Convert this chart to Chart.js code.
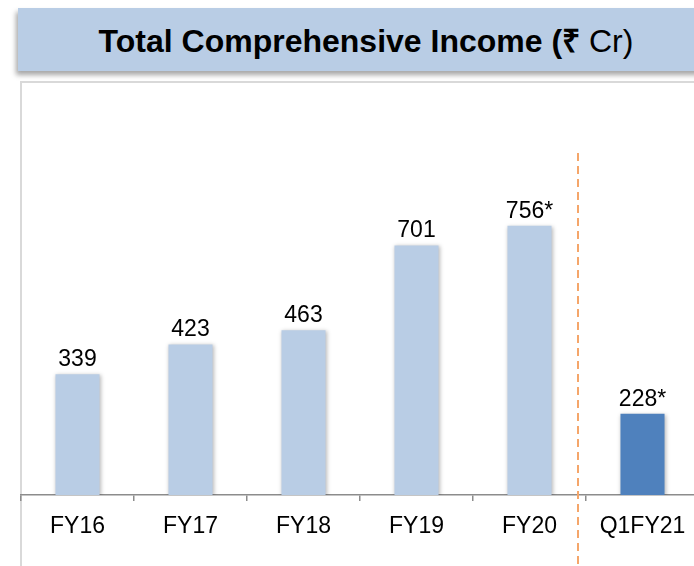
<!DOCTYPE html>
<html>
<head>
<meta charset="utf-8">
<script src="https://cdn.jsdelivr.net/npm/chart.js@4"></script>
<style>
  html, body { margin: 0; padding: 0; background: #fff; overflow: hidden; }
  body { width: 694px; height: 566px; position: relative; font-family: Arial, "Liberation Sans", sans-serif; }
  #title {
    position: absolute; left: 18px; top: 8px; width: 700px; height: 63px;
    background: #b9cde5; box-shadow: -2px 4px 5px rgba(0,0,0,0.35);
    line-height: 66px; text-align: center; font-size: 32px; color: #000;
    box-sizing: border-box; padding-right: 4px;
  }
  #title b { font-weight: bold; }
  #panel {
    position: absolute; left: 20px; top: 81px; width: 700px; height: 500px;
    border-left: 2px solid #d9d9d9; border-top: 2px solid #d9d9d9;
  }
  #wrap { position: absolute; left: 0; top: 0; width: 700px; height: 566px; }
</style>
</head>
<body>
<div id="title"><b>Total Comprehensive Income (₹</b> Cr)</div>
<div id="panel"></div>
<div id="wrap"><canvas id="incomeChart"></canvas></div>
<script>
// data
var categories = ["FY16", "FY17", "FY18", "FY19", "FY20", "Q1FY21"];
var values = [339, 423, 463, 701, 756, 228];
var valueLabels = ["339", "423", "463", "701", "756*", "228*"];
var barColors = ["#b9cde5", "#b9cde5", "#b9cde5", "#b9cde5", "#b9cde5", "#4f81bd"];

// soft shadow behind bars
var barShadow = {
    id: 'barShadow',
    beforeDatasetsDraw: function (chart) {
        var c = chart.ctx;
        c.save();
        c.shadowColor = 'rgba(0,0,0,0.28)';
        c.shadowBlur = 4;
        c.shadowOffsetX = 1;
        c.shadowOffsetY = 1;
    },
    afterDatasetsDraw: function (chart) {
        chart.ctx.restore();
    }
};

// value labels on top of the bars + dashed separator
var extras = {
    id: 'extras',
    afterDatasetsDraw: function (chart) {
        var c = chart.ctx;
        var bars = chart.getDatasetMeta(0).data;
        c.save();
        c.font = '23px Arial, "Liberation Sans", sans-serif';
        c.fillStyle = '#000';
        c.textAlign = 'center';
        c.textBaseline = 'alphabetic';
        bars.forEach(function (bar, i) {
            c.fillText(valueLabels[i], bar.x, bar.y - 8);
        });

        // dashed line between FY20 and Q1FY21
        var xs = chart.scales.x;
        var n = categories.length;
        var sepX = (xs.getPixelForValue(n - 2) + xs.getPixelForValue(n - 1)) / 2 - 8;
        c.strokeStyle = '#f5a66a';
        c.lineWidth = 2;
        c.setLineDash([8, 5]);
        c.beginPath();
        c.moveTo(sepX, 153);
        c.lineTo(sepX, 566);
        c.stroke();
        c.restore();
    }
};

var ctx = document.getElementById('incomeChart').getContext('2d');
var incomeChart = new Chart(ctx, {
    type: 'bar',
    data: {
        labels: categories,
        datasets: [{
            data: values,
            backgroundColor: barColors,
            borderWidth: 0,
            barPercentage: 0.39,
            categoryPercentage: 1.0
        }]
    },
    options: {
        responsive: true,
        maintainAspectRatio: false,
        animation: false,
        layout: { padding: { left: 21, right: 1, top: 139, bottom: 0 } },
        plugins: {
            legend: { display: false },
            tooltip: { enabled: false },
            title: { display: false }
        },
        scales: {
            y: { display: false, min: 0, max: 1000 },
            x: {
                afterFit: function (s) { s.height = 71; },
                border: { display: true, color: '#8c8c8c', width: 1.5 },
                grid: {
                    display: true,
                    offset: true,
                    drawOnChartArea: false,
                    drawTicks: true,
                    tickLength: 6,
                    color: '#8c8c8c',
                    lineWidth: 1.5
                },
                ticks: {
                    color: '#000',
                    padding: 12,
                    font: { family: 'Arial, "Liberation Sans", sans-serif', size: 23 }
                }
            }
        }
    },
    plugins: [barShadow, extras]
});
</script>
</body>
</html>
